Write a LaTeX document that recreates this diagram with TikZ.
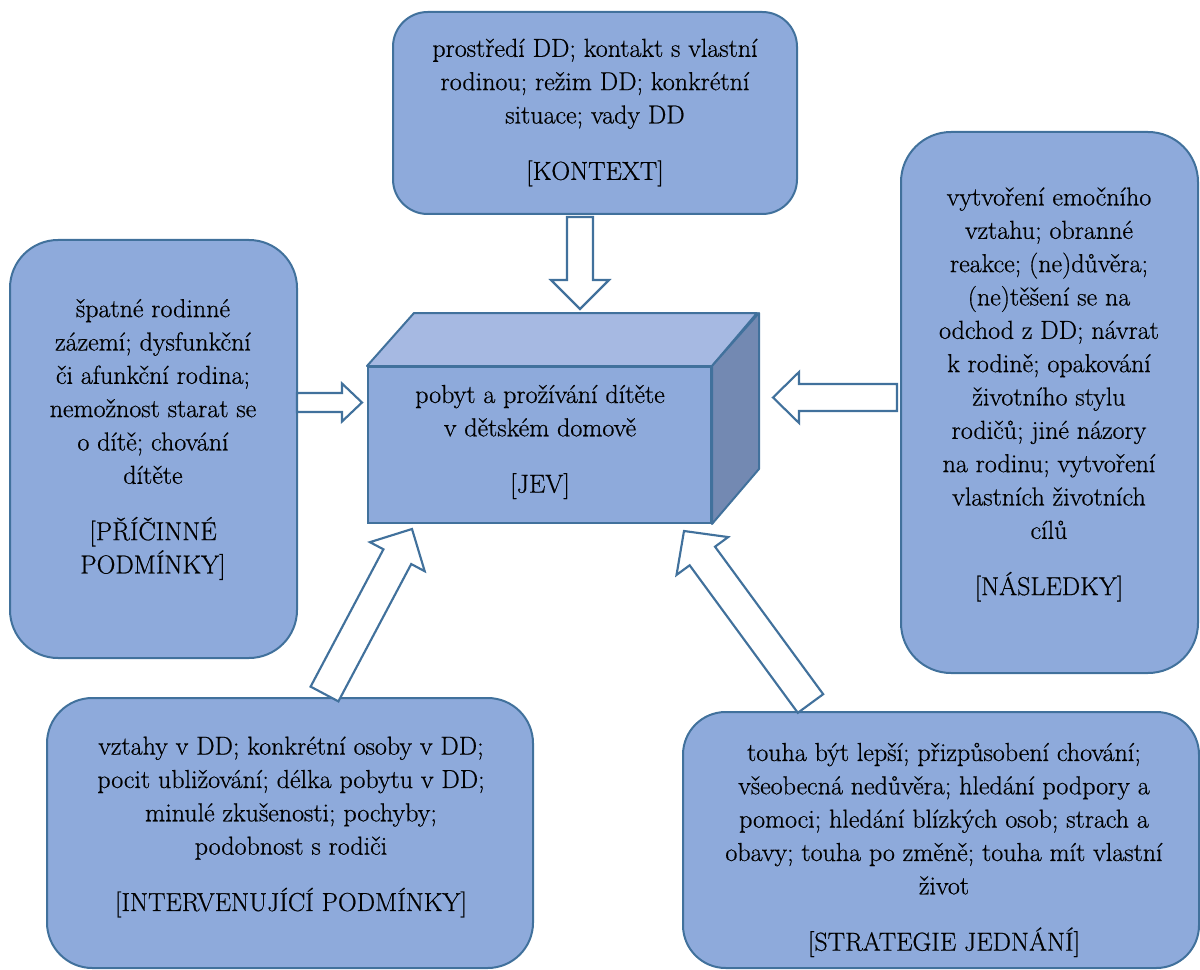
\documentclass[tikz,border=0pt]{standalone}
\usepackage{fontspec}
\setmainfont{Latin Modern Roman}[FakeBold=0.6]
\usetikzlibrary{calc}
\definecolor{boxfill}{RGB}{142,170,219}
\definecolor{boxline}{RGB}{65,113,156}
\definecolor{cubetop}{RGB}{166,185,226}
\definecolor{cubeside}{RGB}{115,137,178}
% tail, tip, shaft half width, head half width, head length
\newcommand\blockarrow[5]{%
  \path ($(#2)!#5!(#1)$) coordinate (ab);
  \draw[barr] ($(#1)!#3!90:(#2)$) -- ($(ab)!#3!90:(#2)$) -- ($(ab)!#4!90:(#2)$) -- (#2)
    -- ($(ab)!#4!-90:(#2)$) -- ($(ab)!#3!-90:(#2)$) -- ($(#1)!#3!-90:(#2)$) -- cycle;}
\begin{document}
\begin{tikzpicture}[x=0.75pt,y=-0.75pt,
  rbox/.style={draw=boxline, line width=1.5pt, fill=boxfill, rectangle, inner sep=0pt},
  txt/.style={align=center, font=\fontsize{19.5pt}{25pt}\selectfont, inner sep=0pt, text=black},
  barr/.style={draw=boxline, line width=1.6pt, fill=white, line join=miter}]
\useasboundingbox (0,0) rectangle (1200,970);

% boxes
\node[rbox, minimum width=303pt, minimum height=151.5pt, rounded corners=26pt] (ctx) at (595,113) {};
\node[rbox, minimum width=215.25pt, minimum height=313.5pt, rounded corners=36pt] (pric) at (153.5,449) {};
\node[rbox, minimum width=222.75pt, minimum height=405.75pt, rounded corners=37.5pt] (nasl) at (1049.5,402.5) {};
\node[rbox, minimum width=364.5pt, minimum height=202.5pt, rounded corners=34pt] (interv) at (290,833) {};
\node[rbox, minimum width=387pt, minimum height=192pt, rounded corners=32pt] (strat) at (941,840) {};

% cube
\node[rbox, minimum width=257.25pt, minimum height=117pt] (jev) at (539.5,445) {};
\draw[draw=boxline, line width=1.5pt, fill=cubetop, line join=round]
  (jev.north west) -- ++(47,-53) -- ++(343,0) -- (jev.north east) -- cycle;
\draw[draw=boxline, line width=1.5pt, fill=cubeside, line join=round]
  (jev.north east) -- ++(47,-53) -- ++(0,156) -- (jev.south east) -- cycle;

% texts
\node[txt] (ctxt) at (595,112.5) {prostředí DD; kontakt s vlastní\\ rodinou; režim DD; konkrétní\\ situace; vady DD\\[17.25pt] [KONTEXT]};
\node[txt] (prict) at (153,439.5) {špatné rodinné\\ zázemí; dysfunkční\\ či afunkční rodina;\\ nemožnost starat se\\ o dítě; chování\\ dítěte\\[17.25pt] [PŘÍČINNÉ\\ PODMÍNKY]};
\node[txt] (jevt) at (540,442) {pobyt a prožívání dítěte\\ v dětském domově\\[17.25pt] [JEV]};
\node[txt] (naslt) at (1049,394.5) {vytvoření emočního\\ vztahu; obranné\\ reakce; (ne)důvěra;\\ (ne)těšení se na\\ odchod z DD; návrat\\ k rodině; opakování\\ životního stylu\\ rodičů; jiné názory\\ na rodinu; vytvoření\\ vlastních životních\\ cílů\\[17.25pt] [NÁSLEDKY]};
\node[txt] (intervt) at (291,827) {vztahy v DD; konkrétní osoby v DD;\\ pocit ubližování; délka pobytu v DD;\\ minulé zkušenosti; pochyby;\\ podobnost s rodiči\\[17.25pt] [INTERVENUJÍCÍ PODMÍNKY]};
\node[txt] (stratt) at (944,850) {touha být lepší; přizpůsobení chování;\\ všeobecná nedůvěra; hledání podpory a\\ pomoci; hledání blízkých osob; strach a\\ obavy; touha po změně; touha mít vlastní\\ život\\[17.25pt] [STRATEGIE JEDNÁNÍ]};

% block arrows
\coordinate (a1t) at (580,217);   \coordinate (a1h) at (580,309);
\coordinate (a2t) at (297,402.5); \coordinate (a2h) at (362,402.5);
\coordinate (a3t) at (897,397.5); \coordinate (a3h) at (773,397.5);
\coordinate (a4t) at (324.5,694); \coordinate (a4h) at (412,529);
\coordinate (a5t) at (810.5,703.5); \coordinate (a5h) at (684,531);
\blockarrow{a1t}{a1h}{9.75pt}{21.75pt}{21.75pt}
\blockarrow{a2t}{a2h}{7.1pt}{14.25pt}{15pt}
\blockarrow{a3t}{a3h}{10.1pt}{19.1pt}{19.5pt}
\blockarrow{a4t}{a4h}{11.8pt}{23.25pt}{23.5pt}
\blockarrow{a5t}{a5h}{11.8pt}{24pt}{23.25pt}
\end{tikzpicture}
\end{document}
